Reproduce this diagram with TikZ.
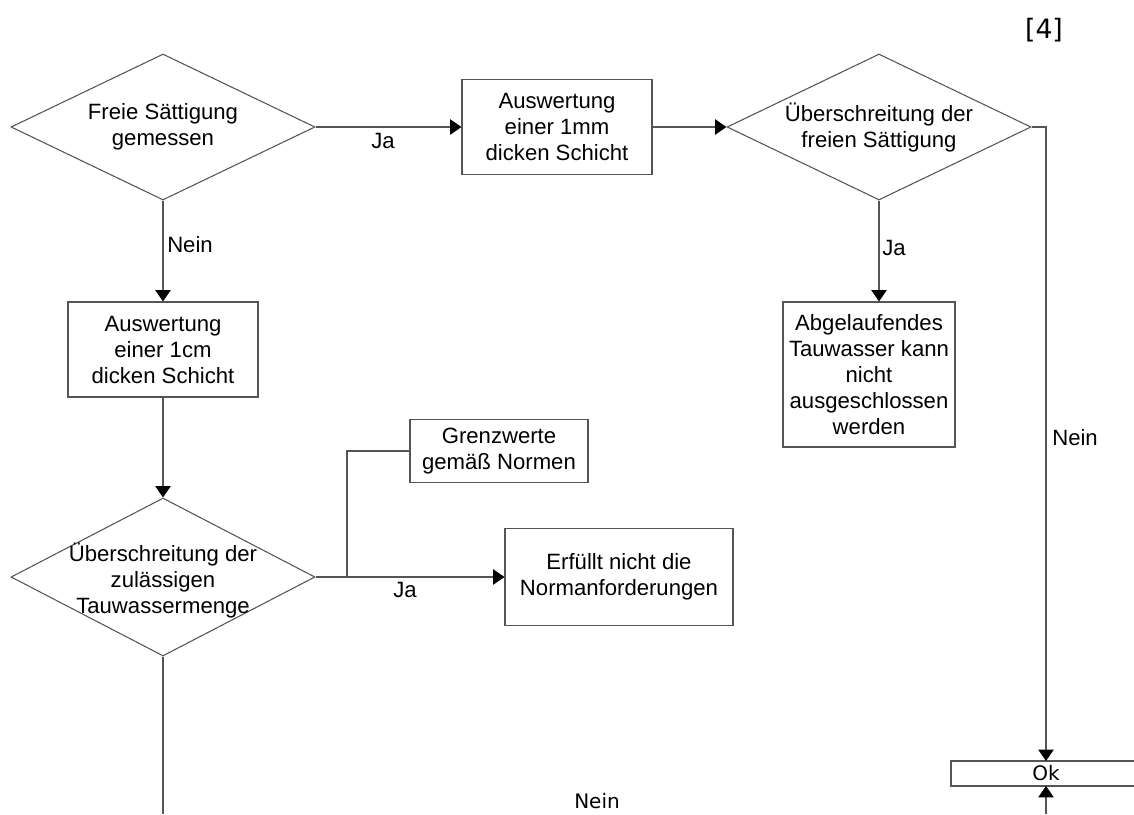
\documentclass[tikz,border=0pt]{standalone}
\usepackage{fontspec}
\setmainfont{Liberation Sans}
\newfontfamily\verdfont{DejaVu Sans}
\usetikzlibrary{shapes.geometric,arrows.meta}
\definecolor{linegray}{HTML}{555555}

\begin{document}
\begin{tikzpicture}[x=0.75pt,y=-0.75pt,
  line/.style={draw=linegray, line width=0.8pt},
  flow/.style={line, -{Triangle[length=8.5pt,width=11.5pt,color=black,fill=black]}},
  decision/.style={diamond, draw=linegray, line width=0.8pt, inner sep=0pt,
    minimum width=228pt, minimum height=109.5pt},
  stepbox/.style={rectangle, draw=linegray, line width=0.8pt, align=center,
    inner sep=0pt, font=\fontsize{16.6}{19.5}\selectfont},
  txt/.style={align=center, inner sep=0pt, font=\fontsize{16.6}{19.5}\selectfont},
  lbl/.style={inner sep=0pt, font=\fontsize{16.6}{19.5}\selectfont},
  wide/.style={inner sep=0pt, font=\verdfont\fontsize{15}{18}\selectfont},
]
\useasboundingbox (0,0) rectangle (1134,814);

% decisions (shapes) and their captions
\node[decision] (d1) at (163,127) {};
\node[txt] at (163,127) {Freie Sättigung\\gemessen};
\node[decision] (d2) at (879,127) {};
\node[txt] at (879,128) {Überschreitung der\\freien Sättigung};
\node[decision, minimum height=118.5pt] (d3) at (163,577) {};
\node[txt] at (163,581) {Überschreitung der\\zulässigen\\Tauwassermenge};

% process boxes
\node[stepbox, minimum width=142.5pt, minimum height=71.25pt] (b1) at (557,127)
  {Auswertung\\einer 1mm\\dicken Schicht};
\node[stepbox, minimum width=142.5pt, minimum height=71.25pt] (b2) at (163,349.5)
  {Auswertung\\einer 1cm\\dicken Schicht};
\node[stepbox, minimum width=129pt, minimum height=108.75pt] (b3) at (869,374.5)
  {Abgelaufendes\\Tauwasser kann\\nicht\\ausgeschlossen\\werden};
\node[stepbox, minimum width=133.5pt, minimum height=47.25pt] (gw) at (499,451)
  {Grenzwerte\\gemäß Normen};
\node[stepbox, minimum width=171pt, minimum height=72.75pt] (bn) at (619,577)
  {Erfüllt nicht die\\Normanforderungen};

% open-ended result bar
\node[wide, minimum height=18.75pt] (ok) at (1046,773.5) {Ok};
\draw[line] (1134,761) -- (951,761) -- (951,786) -- (1134,786);
\coordinate (okt) at (1046,761);
\coordinate (okb) at (1046,786);

% free ends and corners
\coordinate (c1) at (1046,127);
\coordinate (c2) at (347,577);
\coordinate (e1) at (163,814);
\coordinate (e2) at (1046,814);

% connectors
\draw[flow] (d1.east) -- (b1.west);
\draw[flow] (b1.east) -- (d2.west);
\draw[flow] (d1.south) -- (b2.north);
\draw[flow] (b2.south) -- (d3.north);
\draw[flow] (d2.south) -- (d2.south |- b3.north);
\draw[flow] (d3.east) -- (bn.west);
\draw[line] (c2) -- (c2 |- gw.west) -- (gw.west);
\draw[flow] (d2.east) -- (c1) -- (okt);
\draw[flow] (e2) -- (okb);
\draw[line] (d3.south) -- (e1);

% branch labels
\node[lbl] at (383,141) {Ja};
\node[lbl, anchor=west] at (167,245) {Nein};
\node[lbl, anchor=west] at (882,248) {Ja};
\node[lbl, anchor=west] at (1052,438) {Nein};
\node[lbl] at (405,590) {Ja};
\node[wide] at (597,801) {Nein};

\node[inner sep=0pt, font=\verdfont\fontsize{20}{24}\selectfont] at (1044,30) {[4]};
\end{tikzpicture}
\end{document}
